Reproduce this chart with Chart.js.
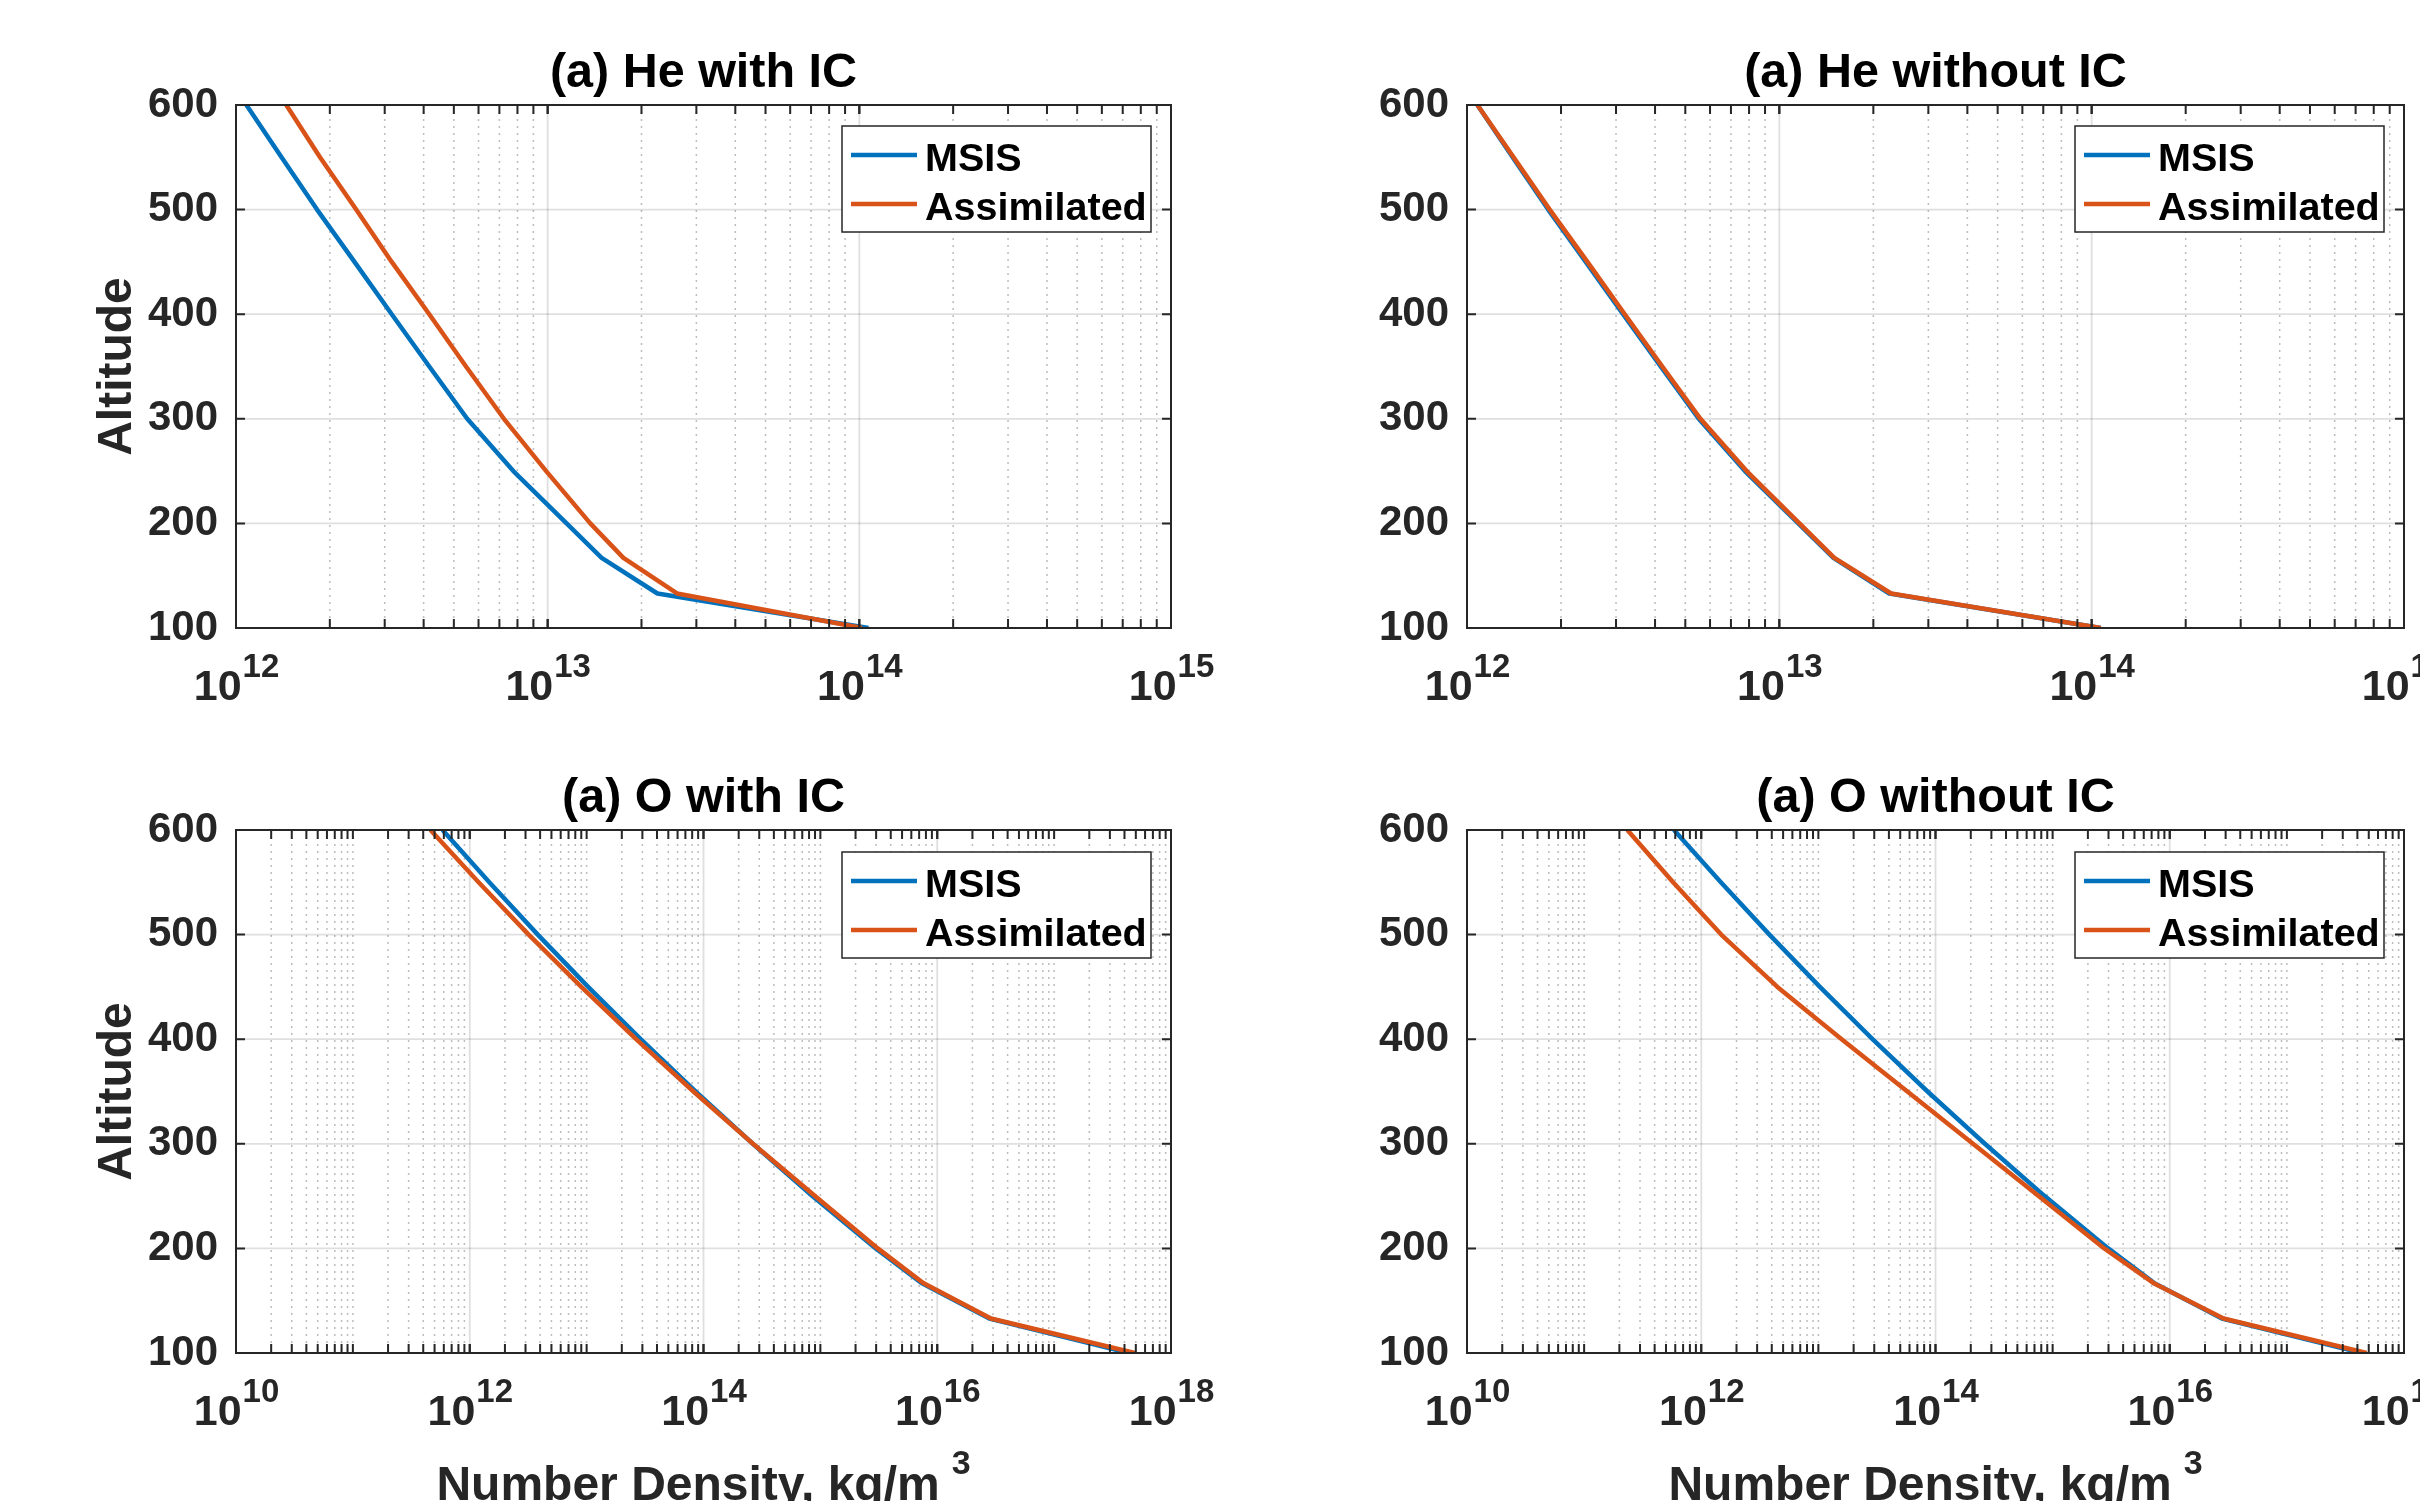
<!DOCTYPE html>
<html>
<head>
<meta charset="utf-8">
<script src="https://cdn.jsdelivr.net/npm/chart.js@4.4.1/dist/chart.umd.min.js"></script>
<style>
html, body { margin: 0; padding: 0; background: #ffffff; width: 2420px; height: 1501px; overflow: hidden; }
canvas { position: absolute; }
</style>
</head>
<body>
<canvas id="c0"></canvas>
<canvas id="c1"></canvas>
<canvas id="c2"></canvas>
<canvas id="c3"></canvas>
<script>
// ---------------- DATA ----------------
const ALTITUDE_KM = [100, 133, 167, 200, 250, 300, 350, 400, 450, 500, 550, 600];

const HE_MSIS            = [1.07e14, 2.25e13, 1.49e13, 1.15e13, 7.76e12, 5.52e12, 4.17e12, 3.16e12, 2.40e12, 1.82e12, 1.40e12, 1.08e12];
const HE_ASSIM_WITH_IC   = [1.02e14, 2.60e13, 1.75e13, 1.37e13, 9.89e12, 7.24e12, 5.47e12, 4.17e12, 3.16e12, 2.43e12, 1.86e12, 1.45e12];
const HE_ASSIM_NO_IC     = [1.07e14, 2.28e13, 1.50e13, 1.16e13, 7.86e12, 5.59e12, 4.22e12, 3.20e12, 2.43e12, 1.84e12, 1.41e12, 1.08e12];

const O_MSIS             = [4.37e17, 2.79e16, 7.33e15, 2.98e15, 8.55e14, 2.64e14, 8.55e13, 2.90e13, 1.03e13, 3.82e12, 1.47e12, 5.85e11];
const O_ASSIM_WITH_IC    = [4.90e17, 2.88e16, 7.59e15, 3.10e15, 9.00e14, 2.65e14, 8.20e13, 2.65e13, 9.00e12, 3.19e12, 1.19e12, 4.61e11];
const O_ASSIM_NO_IC      = [4.79e17, 2.88e16, 7.24e15, 2.76e15, 7.59e14, 2.09e14, 5.75e13, 1.58e13, 4.47e12, 1.48e12, 5.75e11, 2.34e11];

const SERIES_NAMES = ['MSIS', 'Assimilated'];
const PANEL_TITLES = ['(a) He with IC', '(a) He without IC', '(a) O with IC', '(a) O without IC'];

const Y_TICKS = [100, 200, 300, 400, 500, 600];
const HE_X_TICKS = [1e12, 1e13, 1e14, 1e15];
const HE_X_TICK_EXP = ['12', '13', '14', '15'];
const O_X_TICKS = [1e10, 1e12, 1e14, 1e16, 1e18];
const O_X_TICK_EXP = ['10', '12', '14', '16', '18'];
const TICK_BASE = '10';

const Y_LABEL = 'Altitude';
const X_LABEL = 'Number Density, kg/m';
const X_LABEL_SUP = '3';

// ---------------- STYLE ----------------
const FONT = '"Liberation Sans", Arial, Helvetica, sans-serif';
const BLUE = '#0072BD';
const ORANGE = '#D95319';
const AXIS = '#262626';
const MAJOR_GRID = 'rgba(38,38,38,0.15)';
const MINOR_GRID = 'rgba(38,38,38,0.30)';

function minorGrid(minExp, maxExp, majors) {
  const out = [];
  for (let e = minExp; e < maxExp; e++) {
    const d = Math.pow(10, e);
    if (e !== minExp && majors.indexOf(d) < 0) out.push(d);
    for (let k = 2; k <= 9; k++) out.push(k * d);
  }
  return out;
}

const panels = [
  { id: 'c0', left: 0, top: 0, w: 1231, h: 740, padTop: 105, padRight: 60, xAxisH: 112, legendTop: 21,
    title: PANEL_TITLES[0], xMin: 1e12, xMax: 1e15, xTicks: HE_X_TICKS, xExp: HE_X_TICK_EXP,
    majorX: [1e13, 1e14], minorX: minorGrid(12, 15, [1e13, 1e14]),
    msis: HE_MSIS, assim: HE_ASSIM_WITH_IC, yTitle: true, xTitle: false },
  { id: 'c1', left: 1231, top: 0, w: 1189, h: 740, padTop: 105, padRight: 16, xAxisH: 112, legendTop: 21,
    title: PANEL_TITLES[1], xMin: 1e12, xMax: 1e15, xTicks: HE_X_TICKS, xExp: HE_X_TICK_EXP,
    majorX: [1e13, 1e14], minorX: minorGrid(12, 15, [1e13, 1e14]),
    msis: HE_MSIS, assim: HE_ASSIM_NO_IC, yTitle: false, xTitle: false },
  { id: 'c2', left: 0, top: 740, w: 1231, h: 761, padTop: 90, padRight: 60, xAxisH: 148, legendTop: 22,
    title: PANEL_TITLES[2], xMin: 1e10, xMax: 1e18, xTicks: O_X_TICKS, xExp: O_X_TICK_EXP,
    majorX: [1e12, 1e14, 1e16], minorX: minorGrid(10, 18, [1e12, 1e14, 1e16]),
    msis: O_MSIS, assim: O_ASSIM_WITH_IC, yTitle: true, xTitle: true },
  { id: 'c3', left: 1231, top: 740, w: 1189, h: 761, padTop: 90, padRight: 16, xAxisH: 148, legendTop: 22,
    title: PANEL_TITLES[3], xMin: 1e10, xMax: 1e18, xTicks: O_X_TICKS, xExp: O_X_TICK_EXP,
    majorX: [1e12, 1e14, 1e16], minorX: minorGrid(10, 18, [1e12, 1e14, 1e16]),
    msis: O_MSIS, assim: O_ASSIM_NO_IC, yTitle: false, xTitle: true }
];

function makeAxesPlugin(p) {
  return {
    id: 'matlabAxes_' + p.id,
    beforeDatasetsDraw(chart) {
      const { ctx, chartArea: ca, scales } = chart;
      const xs = scales.x, ys = scales.y;
      ctx.save();
      ctx.beginPath();
      ctx.rect(ca.left, ca.top, ca.right - ca.left, ca.bottom - ca.top);
      ctx.clip();
      // minor dotted grid (x only)
      ctx.strokeStyle = MINOR_GRID;
      ctx.lineWidth = 1.5;
      ctx.setLineDash([2, 5]);
      p.minorX.forEach(v => {
        const px = xs.getPixelForValue(v);
        ctx.beginPath(); ctx.moveTo(px, ca.top); ctx.lineTo(px, ca.bottom); ctx.stroke();
      });
      // major solid grid
      ctx.setLineDash([]);
      ctx.strokeStyle = MAJOR_GRID;
      ctx.lineWidth = 1.8;
      p.majorX.forEach(v => {
        const px = xs.getPixelForValue(v);
        ctx.beginPath(); ctx.moveTo(px, ca.top); ctx.lineTo(px, ca.bottom); ctx.stroke();
      });
      Y_TICKS.forEach(v => {
        const py = ys.getPixelForValue(v);
        ctx.beginPath(); ctx.moveTo(ca.left, py); ctx.lineTo(ca.right, py); ctx.stroke();
      });
      ctx.restore();
    },
    afterDatasetsDraw(chart) {
      const { ctx, chartArea: ca, scales } = chart;
      const xs = scales.x, ys = scales.y;
      ctx.save();
      // tick marks (inside, all four sides)
      ctx.strokeStyle = AXIS;
      ctx.lineWidth = 2;
      const TL = 9;
      const xTickVals = p.xTicks.concat(p.majorX, p.minorX);
      xTickVals.forEach(v => {
        const px = xs.getPixelForValue(v);
        ctx.beginPath();
        ctx.moveTo(px, ca.bottom); ctx.lineTo(px, ca.bottom - TL);
        ctx.moveTo(px, ca.top); ctx.lineTo(px, ca.top + TL);
        ctx.stroke();
      });
      Y_TICKS.forEach(v => {
        const py = ys.getPixelForValue(v);
        ctx.beginPath();
        ctx.moveTo(ca.left, py); ctx.lineTo(ca.left + TL, py);
        ctx.moveTo(ca.right, py); ctx.lineTo(ca.right - TL, py);
        ctx.stroke();
      });
      // box
      ctx.lineWidth = 2;
      ctx.strokeRect(ca.left, ca.top, ca.right - ca.left, ca.bottom - ca.top);

      // x tick labels 10^n
      ctx.fillStyle = AXIS;
      ctx.textBaseline = 'alphabetic';
      ctx.textAlign = 'left';
      p.xTicks.forEach((v, i) => {
        const px = xs.getPixelForValue(v);
        ctx.font = 'bold 43px ' + FONT;
        const wb = ctx.measureText(TICK_BASE).width;
        ctx.font = 'bold 33px ' + FONT;
        const we = ctx.measureText(p.xExp[i]).width;
        const x0 = px - (wb + we) / 2;
        ctx.font = 'bold 43px ' + FONT;
        ctx.fillText(TICK_BASE, x0, ca.bottom + 72);
        ctx.font = 'bold 33px ' + FONT;
        ctx.fillText(p.xExp[i], x0 + wb + 1, ca.bottom + 49);
      });

      // title
      ctx.fillStyle = '#000000';
      ctx.font = 'bold 48.5px ' + FONT;
      ctx.textAlign = 'center';
      ctx.fillText(p.title, (ca.left + ca.right) / 2, ca.top - 18);

      // x axis label with superscript
      if (p.xTitle) {
        ctx.fillStyle = AXIS;
        ctx.font = 'bold 48px ' + FONT;
        const wl = ctx.measureText(X_LABEL).width;
        ctx.font = 'bold 34px ' + FONT;
        const ws = ctx.measureText(X_LABEL_SUP).width;
        const gap = 12;
        const x0 = (ca.left + ca.right) / 2 - (wl + gap + ws) / 2;
        ctx.textAlign = 'left';
        ctx.font = 'bold 48px ' + FONT;
        ctx.fillText(X_LABEL, x0, ca.bottom + 147);
        ctx.font = 'bold 34px ' + FONT;
        ctx.fillText(X_LABEL_SUP, x0 + wl + gap, ca.bottom + 121);
      }

      // legend
      const bw = 309, bh = 106;
      const bx = ca.right - 20 - bw, by = ca.top + p.legendTop;
      ctx.fillStyle = '#ffffff';
      ctx.fillRect(bx, by, bw, bh);
      ctx.strokeStyle = AXIS;
      ctx.lineWidth = 1.5;
      ctx.strokeRect(bx, by, bw, bh);
      const ds = chart.data.datasets;
      const rows = [{ ly: by + 29, ty: by + 45 }, { ly: by + 78, ty: by + 94 }];
      ds.forEach((d, i) => {
        ctx.strokeStyle = d.borderColor;
        ctx.lineWidth = 4.5;
        ctx.beginPath(); ctx.moveTo(bx + 9, rows[i].ly); ctx.lineTo(bx + 75, rows[i].ly); ctx.stroke();
        ctx.fillStyle = '#000000';
        ctx.font = 'bold 39.5px ' + FONT;
        ctx.textAlign = 'left';
        ctx.fillText(d.label, bx + 83, rows[i].ty);
      });
      ctx.restore();
    }
  };
}

panels.forEach(p => {
  const cv = document.getElementById(p.id);
  cv.width = p.w; cv.height = p.h;
  cv.style.left = p.left + 'px'; cv.style.top = p.top + 'px';
  cv.style.width = p.w + 'px'; cv.style.height = p.h + 'px';
  new Chart(cv.getContext('2d'), {
    type: 'scatter',
    data: {
      datasets: [
        { label: SERIES_NAMES[0], data: ALTITUDE_KM.map((a, i) => ({ x: p.msis[i], y: a })),
          borderColor: BLUE, backgroundColor: BLUE, borderWidth: 4.5, showLine: true, pointRadius: 0,
          borderJoinStyle: 'round', tension: 0, order: 2 },
        { label: SERIES_NAMES[1], data: ALTITUDE_KM.map((a, i) => ({ x: p.assim[i], y: a })),
          borderColor: ORANGE, backgroundColor: ORANGE, borderWidth: 4.5, showLine: true, pointRadius: 0,
          borderJoinStyle: 'round', tension: 0, order: 1 }
      ]
    },
    options: {
      responsive: false,
      animation: false,
      devicePixelRatio: 1,
      layout: { padding: { top: p.padTop, right: p.padRight, left: 0, bottom: 0 } },
      plugins: { legend: { display: false }, tooltip: { enabled: false }, title: { display: false } },
      scales: {
        x: {
          type: 'logarithmic', min: p.xMin, max: p.xMax,
          ticks: { display: false },
          grid: { display: false, drawTicks: false },
          border: { display: false },
          afterFit: s => { s.height = p.xAxisH; }
        },
        y: {
          type: 'linear', min: 100, max: 600,
          ticks: { stepSize: 100, color: AXIS, padding: 18, font: { family: FONT, size: 42, weight: 'bold' } },
          grid: { display: false, drawTicks: false },
          border: { display: false },
          title: { display: p.yTitle, text: Y_LABEL, color: AXIS, padding: { top: 89, bottom: 0 },
                   font: { family: FONT, size: 48, weight: 'bold', lineHeight: 1.2 } },
          afterFit: s => { s.width = 236; }
        }
      }
    },
    plugins: [makeAxesPlugin(p)]
  });
});
</script>
</body>
</html>
